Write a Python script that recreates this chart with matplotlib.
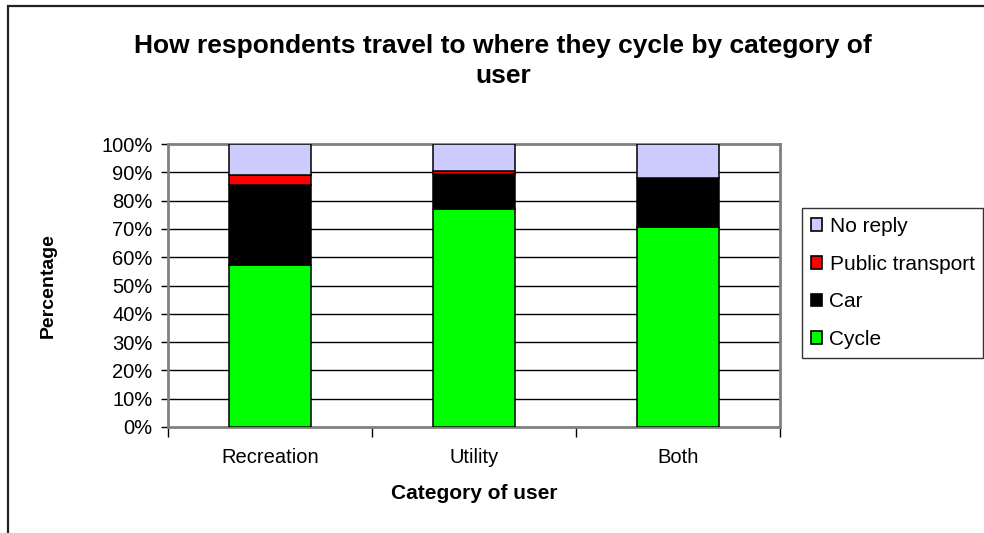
import matplotlib
matplotlib.use("Agg")
import matplotlib.pyplot as plt
from matplotlib.patches import Rectangle, Patch
import numpy as np

plt.rcParams['font.family'] = ['Liberation Sans', 'DejaVu Sans']

categories = ["Recreation", "Utility", "Both"]
series_names = ["Cycle", "Car", "Public transport", "No reply"]
cycle = [57.4, 77.0, 70.6]
car = [28.2, 12.5, 17.3]
public_transport = [3.3, 0.9, 0.0]
no_reply = [11.1, 9.6, 12.1]
colors = {"Cycle": "#00FF00", "Car": "#000000",
          "Public transport": "#FF0000", "No reply": "#CCCCFF"}
yticks = [0, 10, 20, 30, 40, 50, 60, 70, 80, 90, 100]
ytick_labels = [f"{v}%" for v in yticks]
title = "How respondents travel to where they cycle by category of\nuser"

W, H = 984, 533
fig = plt.figure(figsize=(W / 100, H / 100), dpi=100)
fig.patch.set_facecolor("white")

# outer chart-area border (extends past the right and bottom edges)
fig.patches.append(Rectangle((7.5 / W, -0.1), 1.2, (H - 6.5) / H + 0.1,
                             transform=fig.transFigure, fill=False,
                             edgecolor="#222222", linewidth=1.6))

ax = fig.add_axes([168 / W, 1 - 427 / H, (780 - 168) / W, (427 - 144) / H])
x = np.arange(len(categories))
data = {"Cycle": cycle, "Car": car, "Public transport": public_transport,
        "No reply": no_reply}
bottom = np.zeros(len(categories))
for name in series_names:
    vals = np.array(data[name])
    ax.bar(x, vals, width=0.40, bottom=bottom, color=colors[name],
           edgecolor="black", linewidth=1.1, zorder=3)
    bottom += vals

ax.set_xlim(-0.5, 2.5)
ax.set_ylim(0, 100)
ax.set_yticks(yticks)
ax.set_yticklabels(ytick_labels, fontsize=14.5)
for v in yticks[1:-1]:
    ax.axhline(v, color="black", linewidth=1.0, zorder=1)

ax.set_xticks(x)
ax.set_xticklabels(categories, fontsize=14.5)
ax.tick_params(axis="x", length=0, pad=15)
ax.set_xticks([-0.5, 0.5, 1.5, 2.5], minor=True)
ax.tick_params(axis="x", which="minor", length=7, width=1, color="black",
               direction="out")
ax.tick_params(axis="y", length=5, width=1, color="black", direction="out",
               pad=6)
for s in ax.spines.values():
    s.set_color("#808080")
    s.set_linewidth(2)

ax.set_xlabel("Category of user", fontsize=15, fontweight="bold",
              labelpad=12)
ax.set_ylabel("Percentage", fontsize=14, fontweight="bold", labelpad=32)

fig.text(503 / W, 1 - 61 / H, title, ha="center", va="center",
         fontsize=19, fontweight="bold", linespacing=1.33)

handles = [Patch(facecolor=colors[n], edgecolor="black", linewidth=1.2,
                 label=n) for n in ["No reply", "Public transport", "Car", "Cycle"]]
leg = fig.legend(handles=handles, loc="center left",
                 bbox_to_anchor=(802 / W, 1 - 358 / H, (983 - 802) / W, 150 / H),
                 fontsize=15, frameon=True, fancybox=False,
                 handlelength=0.55, handleheight=0.55, handletextpad=0.35,
                 labelspacing=0.9, borderpad=0.42, borderaxespad=0,
                 mode="expand")
leg.get_frame().set_edgecolor("black")
leg.get_frame().set_linewidth(1.0)

fig.savefig("out.png", dpi=100)
